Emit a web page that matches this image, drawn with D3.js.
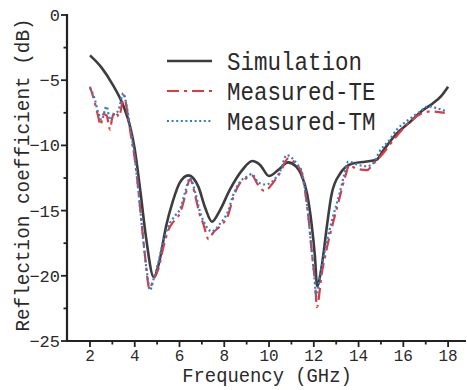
<!DOCTYPE html>
<html>
<head>
<meta charset="utf-8">
<script src="https://cdn.jsdelivr.net/npm/d3@7"></script>
<style>
  html, body { margin: 0; padding: 0; background: #fff; }
  svg { display: block; }
</style>
</head>
<body>
<div id="chart"></div>
<script>
// Reflection coefficient vs frequency: simulation and two measured polarisations.

const seriesNames = ["Simulation", "Measured-TE", "Measured-TM"];

const simFreq = [2.0, 2.5, 3.0, 3.5, 3.8, 4.0, 4.25, 4.5, 4.85, 5.1, 5.4, 5.7, 6.0, 6.4, 6.85, 7.15, 7.45, 7.8, 8.25, 8.8, 9.25, 9.6, 10.0, 10.4, 10.85, 11.2, 11.4, 11.7, 11.9, 12.05, 12.15, 12.35, 12.6, 12.8, 13.2, 13.7, 14.3, 14.8, 15.1, 15.7, 16.3, 16.8, 17.3, 17.7, 18.0];
const simDb = [-3.1, -4.0, -5.3, -7.0, -8.6, -10.3, -13.5, -17.0, -20.1, -18.9, -16.2, -14.3, -12.9, -12.3, -13.2, -14.8, -15.85, -15.0, -13.4, -11.9, -11.2, -11.5, -12.35, -11.9, -11.3, -11.6, -12.1, -13.7, -16.0, -18.5, -20.8, -19.3, -16.0, -13.7, -12.1, -11.4, -11.25, -11.1, -10.4, -9.1, -8.2, -7.4, -6.8, -6.2, -5.5];

const teFreq = [2.0, 2.22, 2.37, 2.47, 2.6, 2.74, 2.9, 2.97, 3.12, 3.3, 3.42, 3.5, 3.71, 3.86, 4.01, 4.16, 4.31, 4.46, 4.66, 4.83, 5.05, 5.28, 5.5, 5.8, 6.02, 6.25, 6.47, 6.72, 6.9, 7.06, 7.3, 7.5, 7.81, 8.18, 8.4, 8.7, 9.0, 9.23, 9.5, 9.8, 10.12, 10.49, 10.86, 11.24, 11.46, 11.6, 11.76, 11.9, 12.06, 12.14, 12.35, 12.58, 12.88, 13.17, 13.4, 13.6, 13.85, 14.37, 14.66, 15.1, 15.55, 16.0, 16.37, 16.82, 17.2, 17.85];
const teDb = [-5.5, -6.75, -7.8, -8.45, -7.6, -7.7, -8.8, -8.1, -7.4, -7.8, -6.9, -6.15, -7.9, -9.6, -11.1, -13.4, -16.0, -18.5, -21.0, -20.3, -19.5, -17.8, -16.5, -15.7, -15.2, -13.9, -12.6, -14.0, -15.3, -16.0, -17.2, -16.7, -16.2, -15.3, -14.0, -12.9, -12.5, -12.3, -13.0, -13.5, -13.0, -12.1, -11.0, -11.5, -12.1, -13.4, -15.5, -18.0, -20.6, -22.4, -19.9, -17.9, -15.8, -13.9, -12.4, -11.5, -11.75, -11.9, -11.4, -10.6, -9.6, -8.7, -8.05, -7.55, -7.4, -7.5];

const tmFreq = [2.0, 2.22, 2.37, 2.52, 2.74, 2.9, 3.04, 3.27, 3.49, 3.64, 3.79, 3.95, 4.1, 4.25, 4.4, 4.55, 4.68, 4.85, 5.05, 5.28, 5.5, 5.8, 6.02, 6.25, 6.47, 6.7, 6.9, 7.1, 7.44, 7.81, 8.18, 8.4, 8.7, 9.0, 9.23, 9.5, 9.82, 10.12, 10.49, 10.79, 11.24, 11.46, 11.6, 11.76, 11.9, 12.04, 12.1, 12.3, 12.55, 12.85, 13.15, 13.35, 13.54, 14.0, 14.37, 14.66, 14.96, 15.33, 15.7, 16.22, 16.75, 17.12, 17.5, 17.95];
const tmDb = [-5.6, -6.5, -7.5, -8.05, -7.0, -8.05, -7.7, -7.3, -6.0, -7.0, -8.6, -10.3, -12.5, -15.0, -17.6, -19.8, -21.1, -20.2, -19.0, -17.3, -16.2, -15.4, -14.9, -13.6, -12.5, -13.6, -15.0, -15.9, -16.6, -16.0, -15.0, -13.8, -12.8, -12.4, -12.2, -12.8, -13.0, -12.8, -12.0, -10.75, -11.4, -12.0, -13.3, -15.5, -18.0, -20.4, -21.6, -19.8, -17.6, -15.5, -13.7, -12.3, -11.25, -11.5, -11.6, -11.35, -10.4, -9.7, -8.8, -8.05, -7.4, -7.0, -7.15, -7.4];

const xMajorTicks = [2, 4, 6, 8, 10, 12, 14, 16, 18];
const xMinorTicks = [3, 5, 7, 9, 11, 13, 15, 17];
const yMajorTicks = [0, -5, -10, -15, -20, -25];
const yMinorTicks = [-2.5, -7.5, -12.5, -17.5, -22.5];

const FONT = "'Liberation Mono', 'DejaVu Sans Mono', monospace";
const INK = "#2a2a2a";

const W = 467, H = 390;
const svg = d3.select("#chart").append("svg")
  .attr("width", W).attr("height", H)
  .attr("font-family", FONT);

const x = d3.scaleLinear().domain([1, 18.8]).range([67.6, 466]);
const y = d3.scaleLinear().domain([-25, 0]).range([341, 15]);

const toPts = (fs, vs) => fs.map((f, i) => [f, vs[i]]);
const line = d3.line().x(d => x(d[0])).y(d => y(d[1])).curve(d3.curveMonotoneX);

const styles = [
  { color: "#3d3d3d", width: 2.6, dash: null },
  { color: "#e0393e", width: 2.2, dash: "12,5,3,5" },
  { color: "#2f7fc4", width: 2.2, dash: "2,2.6" }
];
const seriesData = [toPts(simFreq, simDb), toPts(teFreq, teDb), toPts(tmFreq, tmDb)];

// curves (sim underneath the measured traces)
seriesData.forEach((pts, i) => {
  svg.append("path")
    .datum(pts)
    .attr("d", line)
    .attr("fill", "none")
    .attr("stroke", styles[i].color)
    .attr("stroke-width", styles[i].width)
    .attr("stroke-dasharray", styles[i].dash)
    .attr("stroke-linejoin", "round");
});

// x axis
const xAxis = svg.append("g").attr("transform", `translate(0,${y(-25)})`);
xAxis.append("line").attr("x1", x.range()[0] - 1).attr("x2", x.range()[1])
  .attr("stroke", "#222").attr("stroke-width", 2.2);
xAxis.selectAll("line.maj").data(xMajorTicks).join("line")
  .attr("class", "maj").attr("x1", d => x(d)).attr("x2", d => x(d))
  .attr("y1", 0).attr("y2", 6).attr("stroke", "#222").attr("stroke-width", 1.8);
xAxis.selectAll("line.min").data(xMinorTicks).join("line")
  .attr("class", "min").attr("x1", d => x(d)).attr("x2", d => x(d))
  .attr("y1", 0).attr("y2", 3.5).attr("stroke", "#222").attr("stroke-width", 1.8);
xAxis.selectAll("text").data(xMajorTicks).join("text")
  .attr("x", d => x(d)).attr("y", 20)
  .attr("text-anchor", "middle")
  .attr("font-size", 16)
  .attr("fill", INK)
  .text(d => d);

// y axis
const yAxis = svg.append("g").attr("transform", `translate(${x(1) - 0.6},0)`);
yAxis.append("line").attr("y1", y(0) - 1).attr("y2", y(-25) + 1)
  .attr("stroke", "#222").attr("stroke-width", 2.2);
yAxis.selectAll("line.maj").data(yMajorTicks).join("line")
  .attr("class", "maj").attr("y1", d => y(d)).attr("y2", d => y(d))
  .attr("x1", 0).attr("x2", -6).attr("stroke", "#222").attr("stroke-width", 1.8);
yAxis.selectAll("line.min").data(yMinorTicks).join("line")
  .attr("class", "min").attr("y1", d => y(d)).attr("y2", d => y(d))
  .attr("x1", 0).attr("x2", -3.5).attr("stroke", "#222").attr("stroke-width", 1.8);
yAxis.selectAll("text").data(yMajorTicks).join("text")
  .attr("x", -7).attr("y", d => y(d) + 6)
  .attr("text-anchor", "end")
  .attr("font-size", 17)
  .attr("fill", INK)
  .text(d => d < 0 ? "\u2212" + Math.abs(d) : d);

// axis titles
const xTitle = "Frequency (GHz)";
svg.append("text")
  .attr("x", 267).attr("y", 382)
  .attr("text-anchor", "middle")
  .attr("font-size", 20)
  .attr("fill", INK)
  .attr("textLength", xTitle.length * 11.3)
  .attr("lengthAdjust", "spacingAndGlyphs")
  .text(xTitle);

const yTitle = "Reflection coefficient (dB)";
svg.append("text")
  .attr("transform", "translate(29,175) rotate(-90)")
  .attr("text-anchor", "middle")
  .attr("font-size", 20)
  .attr("fill", INK)
  .attr("textLength", yTitle.length * 11.6)
  .attr("lengthAdjust", "spacingAndGlyphs")
  .text(yTitle);

// legend
const legend = svg.append("g");
seriesNames.forEach((name, i) => {
  const ly = 61 + i * 30;
  legend.append("line")
    .attr("x1", 167).attr("x2", 212).attr("y1", ly).attr("y2", ly)
    .attr("stroke", styles[i].color)
    .attr("stroke-width", styles[i].width)
    .attr("stroke-dasharray", styles[i].dash);
  legend.append("text")
    .attr("x", 227).attr("y", ly + 9)
    .attr("font-size", 25)
    .attr("fill", INK)
    .attr("textLength", name.length * 13.5)
    .attr("lengthAdjust", "spacingAndGlyphs")
    .text(name);
});
</script>
</body>
</html>
